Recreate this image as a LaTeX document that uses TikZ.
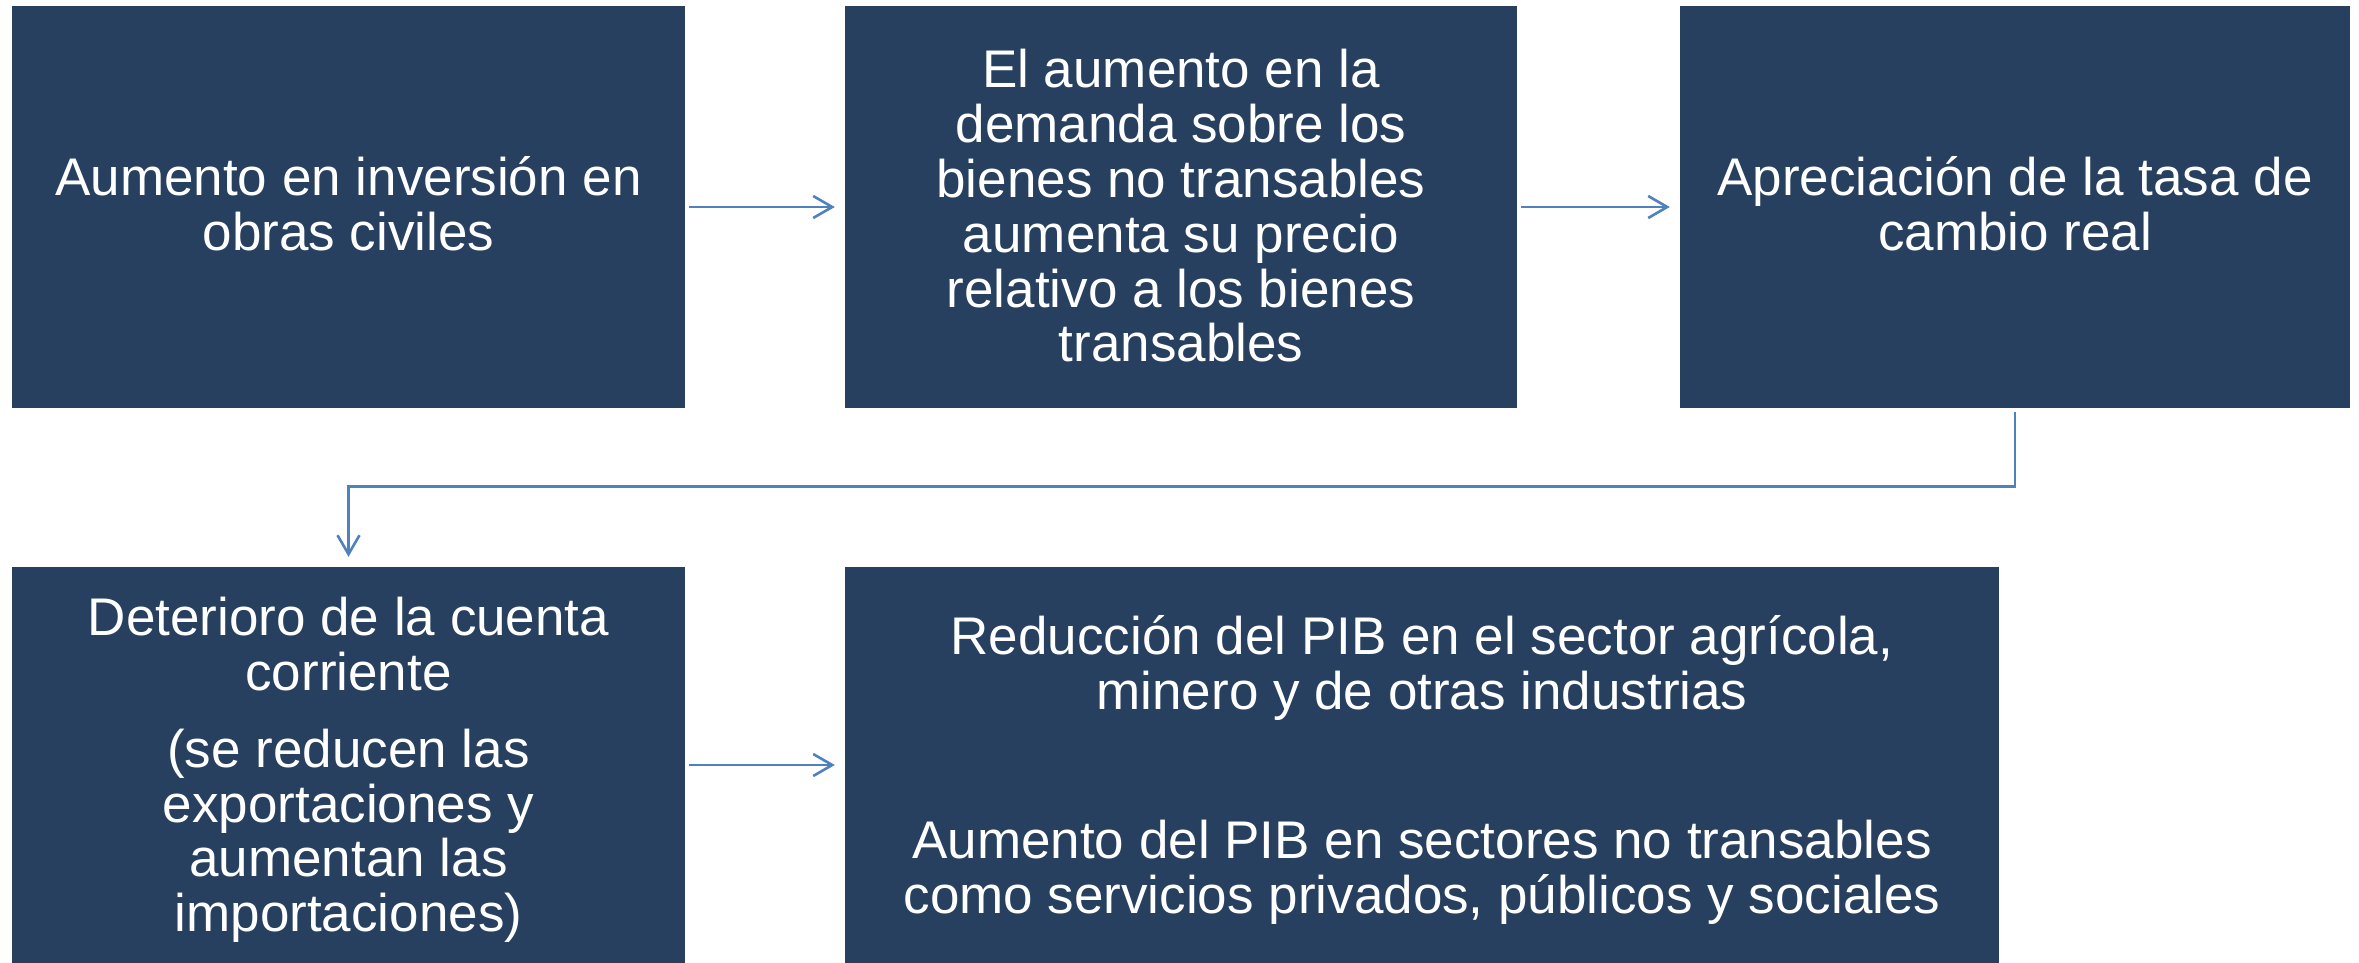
\documentclass[tikz,border=0pt]{standalone}
\usepackage{fontspec}
\setmainfont{Liberation Sans}
\usetikzlibrary{arrows.meta}
\definecolor{boxfill}{HTML}{27405F}
\definecolor{arrowblue}{HTML}{4F81BD}
\begin{document}
\begin{tikzpicture}[x=1pt,y=-1pt,
  flowbox/.style={rectangle, fill=boxfill, draw=none, inner sep=0pt},
  boxtext/.style={text=white, align=center, inner sep=0pt,
    font=\fontsize{53}{54.8}\selectfont},
  conn/.style={draw=arrowblue, line width=2.6pt,
    -{Straight Barb[length=19pt,width=22pt,line width=2.6pt]},
    shorten <=4pt, shorten >=10pt}]
\useasboundingbox (0,0) rectangle (2359,963);
\node[flowbox, minimum width=673pt, minimum height=402pt] (b1) at (348.5,207) {};
\node[flowbox, minimum width=672pt, minimum height=402pt] (b2) at (1181,207) {};
\node[flowbox, minimum width=670pt, minimum height=402pt] (b3) at (2015,207) {};
\node[flowbox, minimum width=673pt, minimum height=396pt] (b4) at (348.5,765) {};
\node[flowbox, minimum width=1154pt, minimum height=396pt] (b5) at (1422,765) {};
\node[boxtext] (t1) at ([yshift=3pt]b1.center)
  {Aumento en inversión en\\obras civiles};
\node[boxtext] (t2) at ([yshift=1pt]b2.center)
  {El aumento en la\\demanda sobre los\\bienes no transables\\aumenta su precio\\relativo a los bienes\\transables};
\node[boxtext] (t3) at ([yshift=3pt]b3.center)
  {Apreciación de la tasa de\\cambio real};
\node[boxtext] (t4) at ([yshift=-5pt]b4.center)
  {Deterioro de la cuenta\\corriente\\[22pt](se reducen las\\exportaciones y\\aumentan las\\importaciones)};
\node[boxtext] (t5) at ([yshift=-5pt]b5.center)
  {Reducción del PIB en el sector agrícola,\\minero y de otras industrias\\[94pt]Aumento del PIB en sectores no transables\\como servicios privados, públicos y sociales};
\coordinate (turn) at (0,486.5);
\draw[conn] (b1) -- (b2);
\draw[conn] (b2) -- (b3);
\draw[conn] (b4) -- (b5);
\draw[conn] (b3.south) -- (b3.south |- turn) -| (b4.north);
\end{tikzpicture}
\end{document}
